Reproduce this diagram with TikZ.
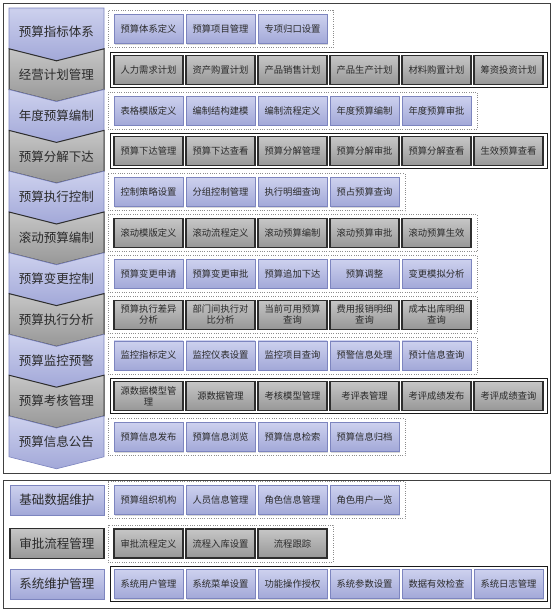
\documentclass[tikz,border=0pt]{standalone}
\usepackage{fontspec}
\setmainfont{Noto Sans CJK SC}
\usetikzlibrary{shadows}
\definecolor{bA}{HTML}{CDD1EE}
\definecolor{bB}{HTML}{A2A8D8}
\definecolor{bD}{HTML}{7D85BF}
\definecolor{gA}{HTML}{C6C6C6}
\definecolor{gB}{HTML}{979797}
\definecolor{gD}{HTML}{2E2E2E}
\definecolor{txt}{HTML}{2A2A2A}
\newcommand\chevN[2]{\path[#2] (9,#1) -- (56.5,{#1+12}) -- (104,#1) -- (104,{#1+40.8}) -- (56.5,{#1+52.8}) -- (9,{#1+40.8}) -- cycle;}
\newcommand\chevF[2]{\path[#2] (9,#1) -- (104,#1) -- (104,{#1+40.8}) -- (56.5,{#1+52.8}) -- (9,{#1+40.8}) -- cycle;}
\begin{document}
\begin{tikzpicture}[x=1pt,y=-1pt,
  bb/.style={draw=bD,line width=0.7pt,top color=bA,bottom color=bB,minimum width=69pt,minimum height=29pt,inner sep=0pt,text=txt,align=center,font=\fontsize{9.3}{11}\selectfont,drop shadow={shadow xshift=1pt,shadow yshift=-1pt,opacity=0.3}},
  gb/.style={draw=gD,line width=1.1pt,top color=gA,bottom color=gB,minimum width=69pt,minimum height=29pt,inner sep=0pt,text=txt,align=center,font=\fontsize{9.3}{11}\selectfont},
  chb/.style={draw=bD,line width=0.6pt,top color=bA,bottom color=bB},
  chg/.style={draw=gD,line width=1pt,top color=gA,bottom color=gB},
  lab/.style={text=txt,font=\fontsize{12.5}{14}\selectfont,inner sep=0pt},
  lbb/.style={bb,minimum width=94pt,minimum height=30pt,font=\fontsize{12.5}{14}\selectfont},
  lgb/.style={gb,minimum width=94pt,minimum height=30pt,font=\fontsize{12.5}{14}\selectfont},
  dfr/.style={draw=black!45,line width=0.6pt,dash pattern=on 0.7pt off 1.6pt},
  sfr/.style={draw=black!90,line width=0.9pt,fill=white},
  outer/.style={draw=black!75,line width=1pt,fill=white}]
\useasboundingbox (0,0) rectangle (555,614);
% outer frames
\draw[outer] (3,3) rectangle (550,473);
\draw[outer] (3,480) rectangle (550,608);
% chevrons
\chevF{8}{chb}
\chevN{48.8}{chg}
\chevN{89.6}{chb}
\chevN{130.4}{chg}
\chevN{171.2}{chb}
\chevN{212}{chg}
\chevN{252.8}{chb}
\chevN{293.6}{chg}
\chevN{334.4}{chb}
\chevN{375.2}{chg}
\chevN{416}{chb}
\node[lab] (L1) at (56.5,32) {预算指标体系};
\node[lab] (L2) at (56.5,74.8) {经营计划管理};
\node[lab] (L3) at (56.5,115.6) {年度预算编制};
\node[lab] (L4) at (56.5,156.4) {预算分解下达};
\node[lab] (L5) at (56.5,197.2) {预算执行控制};
\node[lab] (L6) at (56.5,238) {滚动预算编制};
\node[lab] (L7) at (56.5,278.8) {预算变更控制};
\node[lab] (L8) at (56.5,319.6) {预算执行分析};
\node[lab] (L9) at (56.5,360.4) {预算监控预警};
\node[lab] (L10) at (56.5,401.2) {预算考核管理};
\node[lab] (L11) at (56.5,442) {预算信息公告};
% row frames
\draw[dfr] (108,10.5) rectangle (333,47.5);
\draw[sfr] (110,52.3) rectangle (547,87.3);
\draw[dfr] (108,92.1) rectangle (477,129.1);
\draw[sfr] (110,133.9) rectangle (547,168.9);
\draw[dfr] (108,173.7) rectangle (405,210.7);
\draw[dfr] (108,214.5) rectangle (477,251.5);
\draw[dfr] (108,255.3) rectangle (477,292.3);
\draw[dfr] (108,296.1) rectangle (477,333.1);
\draw[dfr] (108,336.9) rectangle (477,373.9);
\draw[sfr] (110,378.7) rectangle (547,413.7);
\draw[dfr] (108,418.5) rectangle (405,455.5);
% row 1
\node[bb] (r1a) at (148.5,29) {预算体系定义};
\node[bb] (r1b) at (220.5,29) {预算项目管理};
\node[bb] (r1c) at (292.5,29) {专项归口设置};
% row 2
\node[gb] (r2a) at (148.5,69.8) {人力需求计划};
\node[gb] (r2b) at (220.5,69.8) {资产购置计划};
\node[gb] (r2c) at (292.5,69.8) {产品销售计划};
\node[gb] (r2d) at (364.5,69.8) {产品生产计划};
\node[gb] (r2e) at (436.5,69.8) {材料购置计划};
\node[gb] (r2f) at (508.5,69.8) {筹资投资计划};
% row 3
\node[bb] (r3a) at (148.5,110.6) {表格模版定义};
\node[bb] (r3b) at (220.5,110.6) {编制结构建模};
\node[bb] (r3c) at (292.5,110.6) {编制流程定义};
\node[bb] (r3d) at (364.5,110.6) {年度预算编制};
\node[bb] (r3e) at (436.5,110.6) {年度预算审批};
% row 4
\node[gb] (r4a) at (148.5,151.4) {预算下达管理};
\node[gb] (r4b) at (220.5,151.4) {预算下达查看};
\node[gb] (r4c) at (292.5,151.4) {预算分解管理};
\node[gb] (r4d) at (364.5,151.4) {预算分解审批};
\node[gb] (r4e) at (436.5,151.4) {预算分解查看};
\node[gb] (r4f) at (508.5,151.4) {生效预算查看};
% row 5
\node[bb] (r5a) at (148.5,192.2) {控制策略设置};
\node[bb] (r5b) at (220.5,192.2) {分组控制管理};
\node[bb] (r5c) at (292.5,192.2) {执行明细查询};
\node[bb] (r5d) at (364.5,192.2) {预占预算查询};
% row 6
\node[gb] (r6a) at (148.5,233) {滚动模版定义};
\node[gb] (r6b) at (220.5,233) {滚动流程定义};
\node[gb] (r6c) at (292.5,233) {滚动预算编制};
\node[gb] (r6d) at (364.5,233) {滚动预算审批};
\node[gb] (r6e) at (436.5,233) {滚动预算生效};
% row 7
\node[bb] (r7a) at (148.5,273.8) {预算变更申请};
\node[bb] (r7b) at (220.5,273.8) {预算变更审批};
\node[bb] (r7c) at (292.5,273.8) {预算追加下达};
\node[bb] (r7d) at (364.5,273.8) {预算调整};
\node[bb] (r7e) at (436.5,273.8) {变更模拟分析};
% row 8
\node[gb] (r8a) at (148.5,314.6) {预算执行差异\\分析};
\node[gb] (r8b) at (220.5,314.6) {部门间执行对\\比分析};
\node[gb] (r8c) at (292.5,314.6) {当前可用预算\\查询};
\node[gb] (r8d) at (364.5,314.6) {费用报销明细\\查询};
\node[gb] (r8e) at (436.5,314.6) {成本出库明细\\查询};
% row 9
\node[bb] (r9a) at (148.5,355.4) {监控指标定义};
\node[bb] (r9b) at (220.5,355.4) {监控仪表设置};
\node[bb] (r9c) at (292.5,355.4) {监控项目查询};
\node[bb] (r9d) at (364.5,355.4) {预警信息处理};
\node[bb] (r9e) at (436.5,355.4) {预计信息查询};
% row 10
\node[gb] (r10a) at (148.5,396.2) {源数据模型管\\理};
\node[gb] (r10b) at (220.5,396.2) {源数据管理};
\node[gb] (r10c) at (292.5,396.2) {考核模型管理};
\node[gb] (r10d) at (364.5,396.2) {考评表管理};
\node[gb] (r10e) at (436.5,396.2) {考评成绩发布};
\node[gb] (r10f) at (508.5,396.2) {考评成绩查询};
% row 11
\node[bb] (r11a) at (148.5,437) {预算信息发布};
\node[bb] (r11b) at (220.5,437) {预算信息浏览};
\node[bb] (r11c) at (292.5,437) {预算信息检索};
\node[bb] (r11d) at (364.5,437) {预算信息归档};
% bottom section
\draw[dfr] (108,481.5) rectangle (405,518.5);
\draw[dfr] (108,525) rectangle (333,562);
\draw[sfr] (110,566.5) rectangle (547,601.5);
\node[lbb] (B1) at (57,500) {基础数据维护};
\node[lgb] (B2) at (57,543.5) {审批流程管理};
\node[lbb] (B3) at (57,584) {系统维护管理};
\node[bb] (s1a) at (148.5,500) {预算组织机构};
\node[bb] (s1b) at (220.5,500) {人员信息管理};
\node[bb] (s1c) at (292.5,500) {角色信息管理};
\node[bb] (s1d) at (364.5,500) {角色用户一览};
\node[gb] (s2a) at (148.5,543.5) {审批流程定义};
\node[gb] (s2b) at (220.5,543.5) {流程入库设置};
\node[gb] (s2c) at (292.5,543.5) {流程跟踪};
\node[bb] (s3a) at (148.5,584) {系统用户管理};
\node[bb] (s3b) at (220.5,584) {系统菜单设置};
\node[bb] (s3c) at (292.5,584) {功能操作授权};
\node[bb] (s3d) at (364.5,584) {系统参数设置};
\node[bb] (s3e) at (436.5,584) {数据有效检查};
\node[bb] (s3f) at (508.5,584) {系统日志管理};
\end{tikzpicture}
\end{document}
